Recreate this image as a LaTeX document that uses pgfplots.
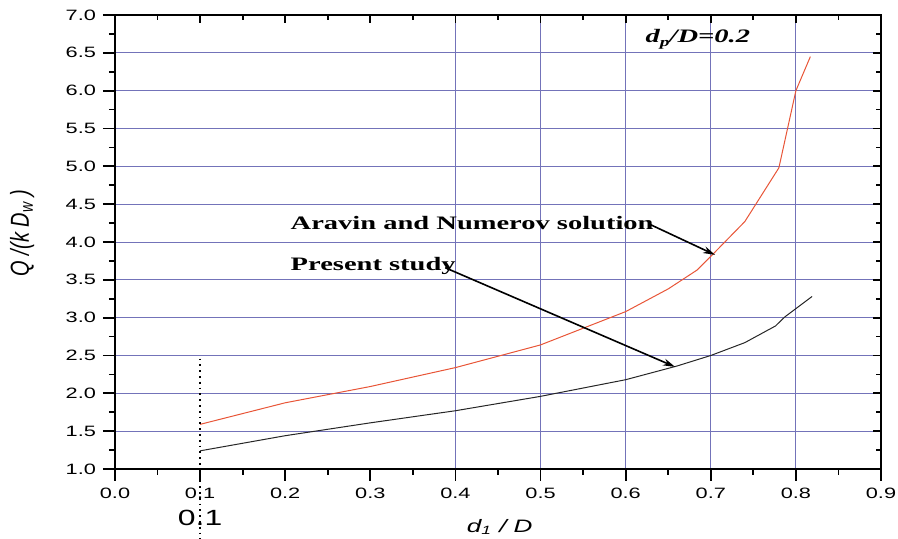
\documentclass[border=0pt]{standalone}
\usepackage{pgfplots}
\pgfplotsset{compat=1.18}
\usetikzlibrary{arrows.meta}
\usepackage{fontspec}
\setmainfont{Liberation Sans}[FakeStretch=1.45]
\newfontfamily\annfont{Liberation Serif}[FakeStretch=1.5]
\newfontfamily\labfont{Liberation Sans}
\definecolor{redcurve}{RGB}{232,85,55}
\definecolor{gridc}{RGB}{115,115,185}
\begin{document}
\begin{tikzpicture}
\useasboundingbox (-57.5pt,-35pt) rectangle (391.5pt,234.5pt);
\pgfplotsset{common/.style={scale only axis, width=383pt, height=227pt,
  xmin=0, xmax=0.9, ymin=1, ymax=7,
  xtick={0,0.1,...,0.9}, ytick={1,1.5,...,7},
  minor x tick num=1, minor y tick num=1}}
% grid layer
\begin{axis}[common, xtick={0.4,0.5,0.6,0.7,0.8}, ytick={1.5,2,...,6.5},
  minor x tick num=0, minor y tick num=0,
  grid=major, major grid style={gridc, line width=0.45pt},
  xticklabels={}, yticklabels={}, axis line style={draw=none}, tick style={draw=none}]
\end{axis}
% main layer
\begin{axis}[common, xtick pos=bottom, ytick pos=left, tick align=outside,
  axis line style={line width=1pt},
  major tick length=6pt, minor tick length=3pt,
  tick style={black, line width=0.9pt},
  clip=false,
  /pgf/number format/assume math mode=true,
  ticklabel style={font=\fontsize{7.5}{9}\selectfont},
  xticklabel style={/pgf/number format/fixed, /pgf/number format/fixed zerofill, /pgf/number format/precision=1},
  yticklabel style={/pgf/number format/fixed, /pgf/number format/fixed zerofill, /pgf/number format/precision=1}]
\addplot[redcurve, line width=0.5pt] coordinates {
 (0.1,1.59) (0.2,1.875) (0.3,2.09) (0.4,2.34) (0.5,2.64) (0.6,3.08) (0.65,3.38)
 (0.684,3.63) (0.7,3.81) (0.74,4.27) (0.78,4.98) (0.8,6.0) (0.817,6.45)};
\addplot[black!85, line width=0.5pt] coordinates {
 (0.1,1.24) (0.2,1.44) (0.3,1.61) (0.4,1.77) (0.5,1.96) (0.6,2.18) (0.66,2.36)
 (0.7,2.50) (0.74,2.67) (0.776,2.89) (0.787,3.01) (0.819,3.28)};
\draw[dotted, line width=0.9pt] (axis cs:0.1,2.46) -- (axis cs:0.1,0.075);
\node[font=\fontsize{11}{13}\selectfont] at (axis cs:0.1,0.353) {0.1};
\node[font=\itshape\fontsize{9}{11}\selectfont] at (axis cs:0.452,0.234) {d\textsubscript{1} / D};
\node[rotate=90, font=\labfont\itshape\fontsize{10}{12}\selectfont] at (axis cs:-0.109,4.12) {\scalebox{1}[1.3]{Q /(k D\textsubscript{w} )}};
\node[anchor=base west, inner sep=0, font=\annfont\bfseries\fontsize{9.5}{11}\selectfont] at (axis cs:0.206,4.16) {Aravin and Numerov solution};
\node[anchor=base west, inner sep=0, font=\annfont\bfseries\fontsize{9.5}{11}\selectfont] at (axis cs:0.206,3.62) {Present study};
\node[anchor=base west, inner sep=0, font=\annfont\bfseries\itshape\fontsize{9.5}{11}\selectfont] at (axis cs:0.623,6.64) {d\raisebox{-0.5ex}{\fontsize{6.5}{8}\selectfont\textit{p}}/D=0.2};
\draw[-{Stealth[length=6pt,width=3.5pt]}, line width=0.8pt] (axis cs:0.629,4.23) -- (axis cs:0.705,3.83);
\draw[-{Stealth[length=6pt,width=3.5pt]}, line width=0.8pt] (axis cs:0.388,3.66) -- (axis cs:0.658,2.35);
\end{axis}
% top/right inward ticks
\begin{axis}[common, xtick pos=top, ytick pos=right, tick align=inside,
  xticklabels={}, yticklabels={}, axis line style={draw=none},
  major tick length=4pt, minor tick length=2.5pt,
  tick style={black, line width=0.9pt}]
\end{axis}
\end{tikzpicture}
\end{document}
